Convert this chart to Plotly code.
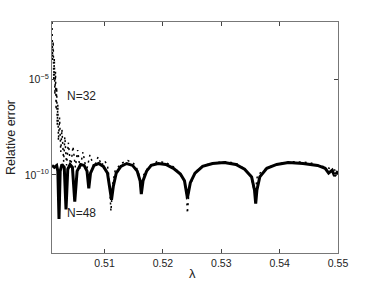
import plotly.graph_objects as go

# N=48 (solid)
lam48 = [0.5010, 0.5014, 0.5018, 0.5020, 0.5022, 0.5024, 0.5027, 0.5031, 0.5034, 0.5037,
         0.5041, 0.5045, 0.5049, 0.5053, 0.5059, 0.5065, 0.5070, 0.5073, 0.5076, 0.5082,
         0.5090, 0.5098, 0.5105, 0.5109, 0.5112, 0.5115, 0.5120, 0.5128, 0.5138, 0.5148,
         0.5156, 0.5161, 0.5163, 0.5166, 0.5172, 0.5180, 0.5192, 0.5205, 0.5218, 0.5230,
         0.5237, 0.5242, 0.5247, 0.5255, 0.5268, 0.5285, 0.5305, 0.5325, 0.5340, 0.5352,
         0.5357, 0.5359, 0.5361, 0.5366, 0.5378, 0.5395, 0.5415, 0.5440, 0.5465, 0.5478,
         0.5484, 0.5490, 0.5494, 0.5500]
exp48 = [-9.5, -9.6, -9.5, -9.8, -12.3, -9.8, -9.45, -9.6, -11.8, -9.7,
         -9.45, -9.6, -11.4, -9.8, -9.45, -9.5, -9.8, -10.7, -9.9, -9.5,
         -9.4, -9.55, -9.9, -10.6, -11.3, -10.6, -9.9, -9.55, -9.4, -9.5,
         -9.8, -10.3, -11.0, -10.3, -9.8, -9.5, -9.4, -9.45, -9.65, -9.95,
         -10.3, -11.2, -10.4, -9.9, -9.55, -9.4, -9.35, -9.45, -9.7, -10.1,
         -10.8, -11.5, -10.8, -10.1, -9.65, -9.45, -9.35, -9.4, -9.5, -9.65,
         -9.9, -9.75, -10.05, -9.8]

# N=32 (dotted)
lam32 = [0.5010, 0.5011, 0.5012, 0.5013, 0.5014, 0.5015, 0.5016, 0.5017, 0.5018, 0.5019,
         0.5020, 0.5021, 0.5023, 0.5025, 0.5027, 0.5030, 0.5032, 0.5035, 0.5038, 0.5042,
         0.5046, 0.5050, 0.5054, 0.5058, 0.5063, 0.5069, 0.5075, 0.5082, 0.5089, 0.5095,
         0.5100, 0.5105, 0.5108, 0.5111, 0.5114, 0.5118, 0.5128, 0.5140, 0.5150, 0.5158,
         0.5163, 0.5167, 0.5175, 0.5190, 0.5205, 0.5220, 0.5235, 0.5240, 0.5242, 0.5245,
         0.5255, 0.5270, 0.5290, 0.5310, 0.5330, 0.5350, 0.5358, 0.5362, 0.5380, 0.5400,
         0.5420, 0.5450, 0.5480, 0.5500]
exp32 = [-2.0, -4.0, -3.0, -5.0, -3.9, -5.8, -4.6, -6.6, -5.4, -7.4,
         -6.3, -8.2, -7.0, -8.8, -7.6, -9.3, -8.0, -9.5, -8.3, -9.6,
         -8.5, -9.6, -8.7, -9.7, -8.8, -9.8, -8.95, -9.6, -9.05, -9.5,
         -9.25, -9.5, -10.2, -11.9, -10.5, -9.8, -9.4, -9.25, -9.4, -9.8,
         -10.9, -10.0, -9.6, -9.3, -9.35, -9.6, -10.2, -10.8, -12.0, -10.7,
         -9.85, -9.5, -9.35, -9.3, -9.45, -10.0, -11.0, -10.0, -9.6, -9.4,
         -9.3, -9.35, -9.6, -9.8]

xticks = [0.51, 0.52, 0.53, 0.54, 0.55]
xticktext = ["0.51", "0.52", "0.53", "0.54", "0.55"]
yticks = [1e-10, 1e-5]
yticktext = ["10<sup>−10</sup>", "10<sup>−5</sup>"]

err48 = [10 ** e for e in exp48]
err32 = [10 ** e for e in exp32]

fig = go.Figure()
fig.add_trace(go.Scatter(x=lam32, y=err32, mode="lines",
                         line=dict(color="black", width=1.5, dash="2px,4px"),
                         name="N=32", showlegend=False))
fig.add_trace(go.Scatter(x=lam48, y=err48, mode="lines",
                         line=dict(color="black", width=3),
                         name="N=48", showlegend=False))

font = "Liberation Sans, Arial, sans-serif"
fig.update_layout(
    width=374, height=291,
    margin=dict(l=52, r=36, t=22, b=38),
    paper_bgcolor="white", plot_bgcolor="white",
    font=dict(family=font, size=10.5, color="#222"),
    xaxis=dict(range=[0.501, 0.55], tickvals=xticks, ticktext=xticktext,
               ticks="inside", ticklen=4, tickcolor="#444", automargin=False,
               showline=True, linecolor="#777", linewidth=1.2, mirror="ticks",
               showgrid=False, zeroline=False),
    yaxis=dict(type="log", range=[-14.08, -2.0], tickvals=yticks, ticktext=yticktext,
               ticks="inside", ticklen=4, tickcolor="#444", automargin=False,
               showline=True, linecolor="#777", linewidth=1.2, mirror="ticks",
               showgrid=False, zeroline=False,
               title=dict(text="Relative error", font=dict(size=12.5), standoff=6)),
    annotations=[
        dict(x=0.50323, y=-5.87, xref="x", yref="y", text="N=32", showarrow=False,
             xanchor="left", yanchor="middle", font=dict(size=12, color="#222")),
        dict(x=0.50323, y=-11.99, xref="x", yref="y", text="N=48", showarrow=False,
             xanchor="left", yanchor="middle", font=dict(size=12, color="#222")),
        dict(x=0.493, y=-0.087, xref="paper", yref="paper", text="λ", showarrow=False,
             xanchor="center", yanchor="middle", font=dict(size=13, color="#222")),
    ],
)
fig.write_html("out.html", config={"displayModeBar": False},
               post_script="document.body.style.margin='0';")
